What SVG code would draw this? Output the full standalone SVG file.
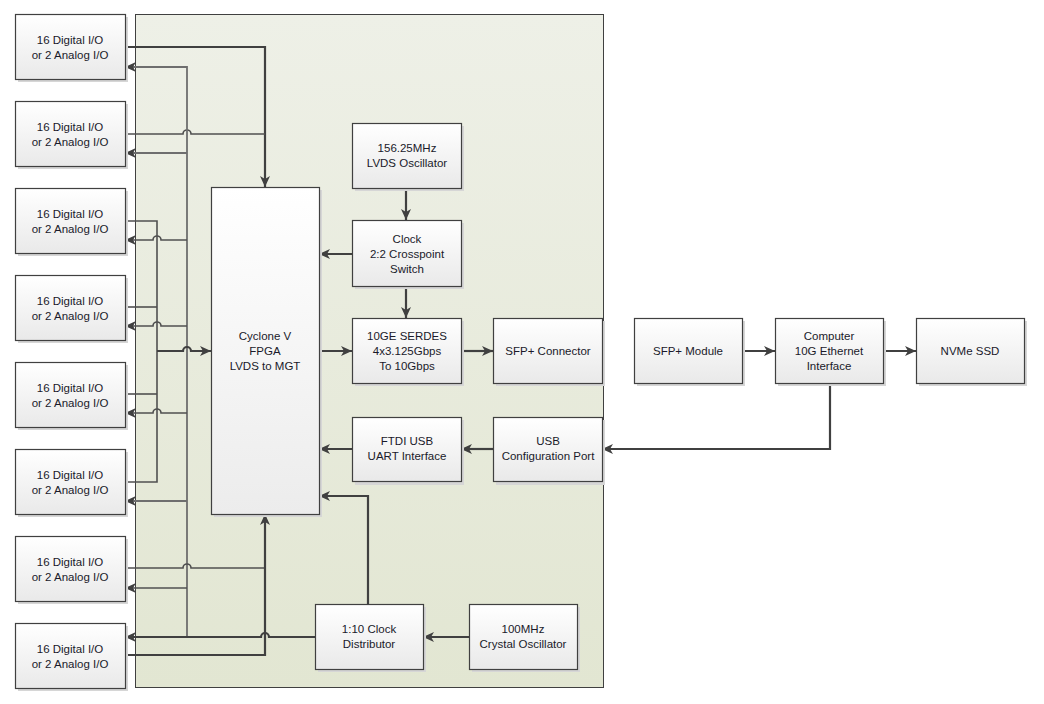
<svg xmlns="http://www.w3.org/2000/svg" width="1044" height="704" viewBox="0 0 1044 704">
<defs>
<linearGradient id="bg" x1="0" y1="0" x2="0" y2="1"><stop offset="0" stop-color="#eef0e7"/><stop offset="1" stop-color="#e2e6d2"/></linearGradient>
<linearGradient id="box" x1="0" y1="0" x2="0" y2="1"><stop offset="0" stop-color="#ffffff"/><stop offset="1" stop-color="#e9e9e9"/></linearGradient>
<linearGradient id="fpga" x1="0" y1="0" x2="0" y2="1"><stop offset="0" stop-color="#ffffff"/><stop offset="1" stop-color="#ececec"/></linearGradient>
<marker id="ah" markerUnits="userSpaceOnUse" markerWidth="12" markerHeight="12" viewBox="0 0 12 12" refX="11" refY="6" orient="auto"><path d="M0,1 L11,6 L0,11 L3,6 Z" fill="#404040"/></marker>
</defs>
<style>
.nd rect.s{fill:#d6d6d6;stroke:none}
.nd rect.b{fill:url(#box);stroke:#404040;stroke-width:1.2}
.nd text{font-family:"Liberation Sans",Arial,sans-serif;font-size:11.5px;fill:#1a1a2a;text-anchor:middle}
.c{fill:none;stroke:#404040;stroke-width:2.2}
.t{fill:none;stroke:#505050;stroke-width:1.6}
.g{fill:none;stroke:#6e6e6e;stroke-width:1.8}
.a{marker-end:url(#ah)}
</style>
<rect x="0" y="0" width="1044" height="704" fill="#ffffff"/>
<rect id="board" x="135.5" y="14.5" width="468" height="673" fill="url(#bg)" stroke="#404040" stroke-width="1"/>

<g id="connectors">
<!-- top collection to FPGA -->
<path class="c a" d="M125,47 H265 V187"/>
<path class="t" d="M125,134 H183 a4,4 0 0 1 8,0 H265"/>
<!-- clock distribution bus -->
<path class="g a" d="M187,637 V67 H125"/>
<path class="g a" d="M187,153 H125"/>
<path class="t a" d="M187,240 H161 a4,4 0 0 0 -8,0 H125"/>
<path class="t a" d="M187,326 H161 a4,4 0 0 0 -8,0 H125"/>
<path class="t a" d="M187,413 H161 a4,4 0 0 0 -8,0 H125"/>
<path class="g a" d="M187,501 H125"/>
<path class="t a" d="M187,588 H125"/>
<path class="c a" d="M315,637 H269 a4,4 0 0 0 -8,0 H125"/>
<!-- middle collection -->
<path class="t" d="M125,221 H157 V482 H125"/>
<path class="t" d="M125,307 H157"/>
<path class="t" d="M125,394 H157"/>
<path class="c a" d="M157,351 H183 a4,4 0 0 1 8,0 H211"/>
<!-- bottom collection -->
<path class="t" d="M125,568 H183 a4,4 0 0 1 8,0 H265"/>
<path class="c a" d="M125,655 H265 V514"/>
<!-- right side -->
<path class="c a" d="M406,188 V220"/>
<path class="c a" d="M352,254 H319"/>
<path class="c a" d="M406,286 V318"/>
<path class="c a" d="M319,351 H352"/>
<path class="c a" d="M461,351 H493"/>
<path class="c a" d="M493,449 H461"/>
<path class="c a" d="M352,449 H319"/>
<path class="c a" d="M368,604 V496 H319"/>
<path class="c a" d="M469,637 H423"/>
<path class="c a" d="M742,351 H775"/>
<path class="c a" d="M883,351 H916"/>
<path class="c a" d="M830,383 V449 H602"/>
</g>

<g id="io1" class="nd"><rect class="s" x="18" y="17" width="110" height="65"/><rect class="b" x="15.5" y="14.5" width="110" height="65"/><text x="70" y="44">16 Digital I/O</text><text x="70" y="59">or 2 Analog I/O</text></g>
<g id="io2" class="nd"><rect class="s" x="18" y="104" width="110" height="65"/><rect class="b" x="15.5" y="101.5" width="110" height="65"/><text x="70" y="131">16 Digital I/O</text><text x="70" y="146">or 2 Analog I/O</text></g>
<g id="io3" class="nd"><rect class="s" x="18" y="191" width="110" height="65"/><rect class="b" x="15.5" y="188.5" width="110" height="65"/><text x="70" y="218">16 Digital I/O</text><text x="70" y="233">or 2 Analog I/O</text></g>
<g id="io4" class="nd"><rect class="s" x="18" y="278" width="110" height="65"/><rect class="b" x="15.5" y="275.5" width="110" height="65"/><text x="70" y="305">16 Digital I/O</text><text x="70" y="320">or 2 Analog I/O</text></g>
<g id="io5" class="nd"><rect class="s" x="18" y="365" width="110" height="65"/><rect class="b" x="15.5" y="362.5" width="110" height="65"/><text x="70" y="392">16 Digital I/O</text><text x="70" y="407">or 2 Analog I/O</text></g>
<g id="io6" class="nd"><rect class="s" x="18" y="452" width="110" height="65"/><rect class="b" x="15.5" y="449.5" width="110" height="65"/><text x="70" y="479">16 Digital I/O</text><text x="70" y="494">or 2 Analog I/O</text></g>
<g id="io7" class="nd"><rect class="s" x="18" y="539" width="110" height="65"/><rect class="b" x="15.5" y="536.5" width="110" height="65"/><text x="70" y="566">16 Digital I/O</text><text x="70" y="581">or 2 Analog I/O</text></g>
<g id="io8" class="nd"><rect class="s" x="18" y="626" width="110" height="65"/><rect class="b" x="15.5" y="623.5" width="110" height="65"/><text x="70" y="653">16 Digital I/O</text><text x="70" y="668">or 2 Analog I/O</text></g>

<g id="fpga_node" class="nd"><rect class="s" x="214" y="190" width="108" height="327"/><rect x="211.5" y="187.5" width="108" height="327" fill="url(#fpga)" stroke="#404040" stroke-width="1.2"/><text x="265" y="340">Cyclone V</text><text x="265" y="355">FPGA</text><text x="265" y="370">LVDS to MGT</text></g>

<g id="lvds_osc" class="nd"><rect class="s" x="355" y="126" width="109" height="65"/><rect class="b" x="352.5" y="123.5" width="109" height="65"/><text x="407" y="152">156.25MHz</text><text x="407" y="167">LVDS Oscillator</text></g>
<g id="clock_switch" class="nd"><rect class="s" x="355" y="223" width="109" height="66"/><rect class="b" x="352.5" y="220.5" width="109" height="66"/><text x="407" y="243">Clock</text><text x="407" y="258">2:2 Crosspoint</text><text x="407" y="273">Switch</text></g>
<g id="serdes" class="nd"><rect class="s" x="355" y="321" width="109" height="65"/><rect class="b" x="352.5" y="318.5" width="109" height="65"/><text x="407" y="340">10GE SERDES</text><text x="407" y="355">4x3.125Gbps</text><text x="407" y="370">To 10Gbps</text></g>
<g id="sfp_conn" class="nd"><rect class="s" x="496" y="321" width="109" height="65"/><rect class="b" x="493.5" y="318.5" width="109" height="65"/><text x="548" y="355">SFP+ Connector</text></g>
<g id="ftdi" class="nd"><rect class="s" x="355" y="420" width="109" height="65"/><rect class="b" x="352.5" y="417.5" width="109" height="64"/><text x="407" y="445">FTDI USB</text><text x="407" y="460">UART Interface</text></g>
<g id="usb_cfg" class="nd"><rect class="s" x="496" y="420" width="109" height="65"/><rect class="b" x="493.5" y="417.5" width="109" height="64"/><text x="548" y="445">USB</text><text x="548" y="460">Configuration Port</text></g>
<g id="clock_dist" class="nd"><rect class="s" x="318" y="607" width="108" height="65"/><rect class="b" x="315.5" y="604.5" width="108" height="65"/><text x="369" y="633">1:10 Clock</text><text x="369" y="648">Distributor</text></g>
<g id="crystal" class="nd"><rect class="s" x="472" y="607" width="108" height="65"/><rect class="b" x="469.5" y="604.5" width="108" height="65"/><text x="523" y="633">100MHz</text><text x="523" y="648">Crystal Oscillator</text></g>

<g id="sfp_module" class="nd"><rect class="s" x="637" y="321" width="108" height="65"/><rect class="b" x="634.5" y="318.5" width="108" height="65"/><text x="688" y="355">SFP+ Module</text></g>
<g id="computer" class="nd"><rect class="s" x="778" y="321" width="108" height="65"/><rect class="b" x="775.5" y="318.5" width="108" height="65"/><text x="829" y="340">Computer</text><text x="829" y="355">10G Ethernet</text><text x="829" y="370">Interface</text></g>
<g id="nvme" class="nd"><rect class="s" x="919" y="321" width="108" height="65"/><rect class="b" x="916.5" y="318.5" width="108" height="65"/><text x="970" y="355">NVMe SSD</text></g>
</svg>
